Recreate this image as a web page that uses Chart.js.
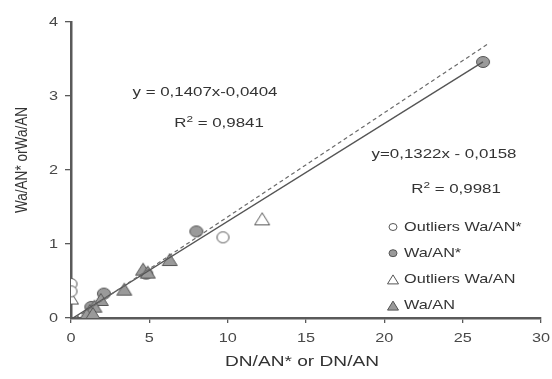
<!DOCTYPE html>
<html>
<head>
<meta charset="utf-8">
<script src="https://cdn.jsdelivr.net/npm/chart.js@4"></script>
<style>
  html, body { margin: 0; padding: 0; background: #fff; }
  #wrap { width: 552px; height: 379px; position: relative; }
</style>
</head>
<body>
<div id="wrap"><canvas id="grafico" width="552" height="379"></canvas></div>
<script>
// Puntos medidos (x = DN/AN* o DN/AN, y = Wa/AN* o Wa/AN)
const outliersWaANstar = [
    { x: 0.0, y: 0.46 },
    { x: 0.0, y: 0.36 },
    { x: 9.7, y: 1.09 }
];
const waANstar = [
    { x: 26.3, y: 3.46 },
    { x: 8.0, y: 1.17 },
    { x: 4.8, y: 0.60 },
    { x: 2.1, y: 0.33 },
    { x: 1.3, y: 0.15 }
];
const outliersWaAN = [
    { x: 0.0, y: 0.27 },
    { x: 12.2, y: 1.34 }
];
const waAN = [
    { x: 6.3, y: 0.79 },
    { x: 4.6, y: 0.66 },
    { x: 4.9, y: 0.62 },
    { x: 3.4, y: 0.39 },
    { x: 1.9, y: 0.25 },
    { x: 1.5, y: 0.16 },
    { x: 1.2, y: 0.10 },
    { x: 1.0, y: 0.05 },
    { x: 1.4, y: 0.06 }
];

// Rectas de regresión: pendiente, ordenada y rango en x
const rectaWaANstar = { m: 0.1322, b: -0.0158, r2: '0,9981', desde: 0.12, hasta: 26.3 };
const rectaWaAN = { m: 0.1407, b: -0.0404, r2: '0,9841', desde: 0.29, hasta: 26.6 };

const xTicks = [0, 5, 10, 15, 20, 25, 30];
const yTicks = [0, 1, 2, 3, 4];

function puntosRecta(r) {
    return [
        { x: r.desde, y: r.m * r.desde + r.b },
        { x: r.hasta, y: r.m * r.hasta + r.b }
    ];
}

const GRIS = '#9a9a9a';
const BORDE = '#555';
const FUENTE = '"Liberation Sans", Arial, sans-serif';
const ESTIRA = 1.25; // el texto de la figura es más ancho que alto

// Marcadores como canvas: círculos algo achatados y triángulos anchos
function marcador(forma, relleno, w, h) {
    const c = document.createElement('canvas');
    c.width = w + 2;
    c.height = h + 2;
    const g = c.getContext('2d');
    trazarForma(g, forma, c.width / 2, c.height / 2, w, h);
    g.fillStyle = relleno;
    g.fill();
    g.lineWidth = 1;
    g.strokeStyle = BORDE;
    g.stroke();
    return c;
}

function trazarForma(g, forma, cx, cy, w, h) {
    g.beginPath();
    if (forma === 'circle') {
        g.ellipse(cx, cy, w / 2 - 0.5, h / 2 - 0.5, 0, 0, Math.PI * 2);
    } else {
        g.moveTo(cx, cy - h / 2 + 0.5);
        g.lineTo(cx + w / 2 - 0.5, cy + h / 2 - 0.5);
        g.lineTo(cx - w / 2 + 0.5, cy + h / 2 - 0.5);
        g.closePath();
    }
}

const leyenda = [
    { texto: 'Outliers Wa/AN*', forma: 'circle', relleno: '#ffffff' },
    { texto: 'Wa/AN*', forma: 'circle', relleno: GRIS },
    { texto: 'Outliers Wa/AN', forma: 'triangle', relleno: '#ffffff' },
    { texto: 'Wa/AN', forma: 'triangle', relleno: GRIS }
];

function texto(ctx, t, x, y, size, align, color) {
    ctx.save();
    ctx.font = size + 'px ' + FUENTE;
    ctx.fillStyle = color || '#333';
    ctx.textBaseline = 'middle';
    const w = ctx.measureText(t).width * ESTIRA;
    let x0 = x;
    if (align === 'center') x0 = x - w / 2;
    if (align === 'right') x0 = x - w;
    ctx.translate(x0, y);
    ctx.scale(ESTIRA, 1);
    ctx.textAlign = 'left';
    ctx.fillText(t, 0, 0);
    ctx.restore();
    return w;
}

function textoR2(ctx, valor, cx, cy, size) {
    ctx.save();
    ctx.font = size + 'px ' + FUENTE;
    const wR = ctx.measureText('R').width * ESTIRA;
    const resto = ' = ' + valor;
    const wResto = ctx.measureText(resto).width * ESTIRA;
    ctx.font = (size * 0.7) + 'px ' + FUENTE;
    const w2 = ctx.measureText('2').width * ESTIRA;
    ctx.restore();
    let x = cx - (wR + w2 + wResto) / 2;
    texto(ctx, 'R', x, cy, size, 'left');
    x += wR;
    texto(ctx, '2', x, cy - 4, size * 0.7, 'left');
    x += w2;
    texto(ctx, resto, x, cy, size, 'left');
}

// Rótulos de ejes, ecuaciones y leyenda
const textosPlugin = {
    id: 'textos',
    afterDraw(chart) {
        const { ctx, scales } = chart;
        const sx = scales.x, sy = scales.y;

        xTicks.forEach(v => texto(ctx, String(v), sx.getPixelForValue(v), 338, 13, 'center', '#484848'));
        yTicks.forEach(v => texto(ctx, String(v), 58, sy.getPixelForValue(v), 13, 'right', '#484848'));

        texto(ctx, 'DN/AN* or DN/AN', (sx.left + sx.right) / 2 - 4, 362, 15.3, 'center', '#333');

        // título vertical: largo sin estirar, grosor estirado
        ctx.save();
        ctx.translate(22, 160);
        ctx.rotate(-Math.PI / 2);
        ctx.scale(1, ESTIRA);
        ctx.font = '13.6px ' + FUENTE;
        ctx.fillStyle = '#333';
        ctx.textAlign = 'center';
        ctx.textBaseline = 'middle';
        ctx.fillText('Wa/AN* orWa/AN', 0, 0);
        ctx.restore();

        texto(ctx, 'y = 0,1407x-0,0404', 205, 92, 13.5, 'center');
        textoR2(ctx, rectaWaAN.r2, 219, 123, 13.5);
        texto(ctx, 'y=0,1322x - 0,0158', 444, 154, 13.5, 'center');
        textoR2(ctx, rectaWaANstar.r2, 456, 189, 13.5);

        const x0 = 393, y0 = 227, paso = 26.2;
        leyenda.forEach((item, i) => {
            const y = y0 + i * paso;
            const w = item.forma === 'circle' ? 9 : 12;
            const h = item.forma === 'circle' ? 8 : 10;
            ctx.save();
            trazarForma(ctx, item.forma, x0, y, w, h);
            ctx.fillStyle = item.relleno;
            ctx.fill();
            ctx.lineWidth = 1;
            ctx.strokeStyle = BORDE;
            ctx.stroke();
            ctx.restore();
            texto(ctx, item.texto, x0 + 11, y, 13, 'left');
        });
    }
};

const ctx = document.getElementById('grafico').getContext('2d');
new Chart(ctx, {
    type: 'scatter',
    data: {
        datasets: [
            {
                label: 'Recta Wa/AN',
                type: 'line',
                data: puntosRecta(rectaWaAN),
                borderColor: '#6a6a6a',
                borderWidth: 1.2,
                borderDash: [4, 3],
                pointRadius: 0,
                fill: false
            },
            {
                label: 'Recta Wa/AN*',
                type: 'line',
                data: puntosRecta(rectaWaANstar),
                borderColor: '#555',
                borderWidth: 1.4,
                pointRadius: 0,
                fill: false
            },
            {
                label: 'Outliers Wa/AN*',
                data: outliersWaANstar,
                pointStyle: marcador('circle', '#ffffff', 13, 12)
            },
            {
                label: 'Outliers Wa/AN',
                data: outliersWaAN,
                pointStyle: marcador('triangle', '#ffffff', 16, 13)
            },
            {
                label: 'Wa/AN',
                data: waAN,
                pointStyle: marcador('triangle', GRIS, 16, 13)
            },
            {
                label: 'Wa/AN*',
                data: waANstar,
                pointStyle: marcador('circle', GRIS, 14, 12)
            }
        ]
    },
    options: {
        responsive: false,
        animation: false,
        layout: { padding: { top: 22, right: 11, left: 0, bottom: 0 } },
        plugins: {
            legend: { display: false },
            tooltip: { enabled: false }
        },
        scales: {
            x: {
                type: 'linear',
                min: 0,
                max: 30,
                afterBuildTicks: (axis) => { axis.ticks = xTicks.map(v => ({ value: v })); },
                afterFit: (axis) => { axis.height = 61; },
                border: { display: true, color: '#5a5a5a', width: 2.5 },
                grid: { display: true, drawOnChartArea: false, drawTicks: true, tickLength: 5, color: '#5a5a5a', lineWidth: 1.3 },
                ticks: { display: false }
            },
            y: {
                type: 'linear',
                min: 0,
                max: 4,
                afterBuildTicks: (axis) => { axis.ticks = yTicks.map(v => ({ value: v })); },
                afterFit: (axis) => { axis.width = 71; },
                border: { display: true, color: '#5a5a5a', width: 2.5 },
                grid: { display: true, drawOnChartArea: false, drawTicks: true, tickLength: 6, color: '#5a5a5a', lineWidth: 1.3 },
                ticks: { display: false }
            }
        }
    },
    plugins: [textosPlugin]
});
</script>
</body>
</html>
